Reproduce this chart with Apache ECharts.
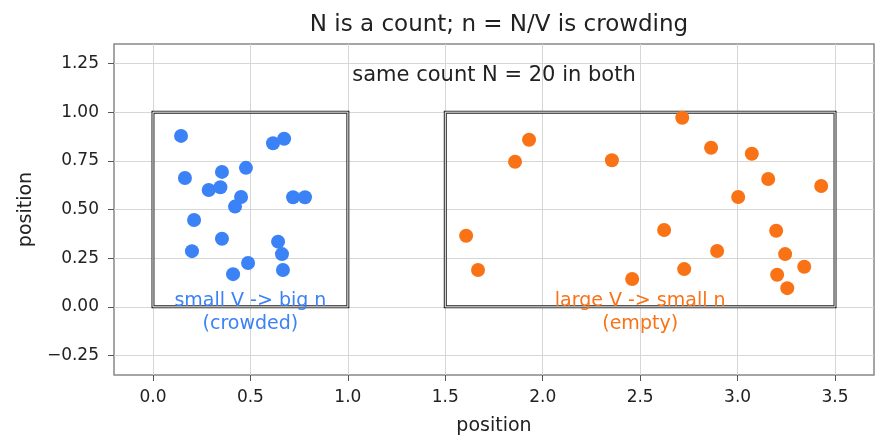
<!DOCTYPE html>
<html>
<head>
<meta charset="utf-8">
<script src="https://cdn.jsdelivr.net/npm/echarts@6/dist/echarts.min.js"></script>
<style>
  html, body { margin: 0; padding: 0; background: #fff; }
  #chart { width: 887px; height: 448px; }
</style>
</head>
<body>
<div id="chart"></div>
<script>
// points inside the small box (x, y)
var smallBoxPts = [
  [0.144, 0.878], [0.616, 0.840], [0.673, 0.863], [0.164, 0.662], [0.354, 0.693],
  [0.477, 0.714], [0.286, 0.600], [0.346, 0.614], [0.452, 0.564], [0.421, 0.515],
  [0.719, 0.563], [0.780, 0.563], [0.211, 0.446], [0.354, 0.350], [0.200, 0.286],
  [0.642, 0.335], [0.662, 0.271], [0.488, 0.225], [0.411, 0.168], [0.667, 0.189]
];
// points inside the large box
var largeBoxPts = [
  [2.716, 0.971], [1.930, 0.858], [1.858, 0.745], [2.355, 0.753], [2.864, 0.817],
  [3.073, 0.786], [3.157, 0.657], [3.429, 0.621], [3.003, 0.564], [1.607, 0.365],
  [1.668, 0.189], [2.623, 0.395], [2.895, 0.287], [2.726, 0.194], [2.459, 0.143],
  [3.198, 0.391], [3.244, 0.271], [3.342, 0.206], [3.203, 0.165], [3.255, 0.096]
];
// boxes: x0, y0, x1, y1
var boxes = [[0, 0, 1, 1], [1.5, 0, 3.5, 1]];
// annotations: x, y, text, colour
var notes = [
  [0.5, -0.03, 'small V -> big n\n(crowded)', '#3b82f6'],
  [2.5, -0.03, 'large V -> small n\n(empty)', '#f97316'],
  [1.75, 1.19, 'same count N = 20 in both', '#222222']
];
var xTicks = [0, 0.5, 1, 1.5, 2, 2.5, 3, 3.5];
var yTicks = [-0.25, 0, 0.25, 0.5, 0.75, 1, 1.25];

var font = 'DejaVu Sans';
var chart = echarts.init(document.getElementById('chart'));

var option = {
  animation: false,
  title: {
    text: 'N is a count; n = N/V is crowding',
    left: 494, top: 9, textAlign: 'center',
    textStyle: { fontFamily: font, fontSize: 23, fontWeight: 'normal', color: '#222' }
  },
  grid: { left: 114, top: 44, right: 13, bottom: 73, show: true, borderColor: '#888', borderWidth: 1.5 },
  xAxis: {
    type: 'value', min: -0.2, max: 3.7, interval: 0.5,
    name: 'position', nameLocation: 'middle', nameGap: 42,
    nameTextStyle: { fontFamily: font, fontSize: 19, color: '#222' },
    axisLine: { show: false, onZero: false },
    axisTick: { show: true, length: 6, lineStyle: { color: '#555' }, customValues: xTicks },
    axisLabel: { fontFamily: font, fontSize: 17, color: '#222', margin: 14,
      customValues: xTicks,
      formatter: function (v) { return v.toFixed(1); } },
    splitLine: { show: true, lineStyle: { color: '#d6d6d6', width: 1 } }
  },
  yAxis: {
    type: 'value', min: -0.35, max: 1.35,
    name: 'position', nameLocation: 'middle', nameGap: 77,
    nameTextStyle: { fontFamily: font, fontSize: 19, color: '#222' },
    axisLine: { show: false, onZero: false },
    axisTick: { show: true, length: 6, lineStyle: { color: '#555' }, customValues: yTicks },
    axisLabel: { fontFamily: font, fontSize: 17, color: '#222', margin: 15,
      customValues: yTicks,
      formatter: function (v) { return v.toFixed(2).replace('-', '\u2212'); } },
    splitLine: { show: true, lineStyle: { color: '#d6d6d6', width: 1 } }
  },
  series: [
    {
      type: 'custom', z: 2, clip: false,
      data: boxes,
      renderItem: function (params, api) {
        var p0 = api.coord([api.value(0), api.value(3)]);
        var p1 = api.coord([api.value(2), api.value(1)]);
        var shape = { x: p0[0], y: p0[1], width: p1[0] - p0[0], height: p1[1] - p0[1] };
        return {
          type: 'group',
          children: [
            { type: 'rect', shape: shape, style: { fill: null, stroke: '#222', lineWidth: 3 } },
            { type: 'rect', shape: shape, style: { fill: null, stroke: '#fff', lineWidth: 1 } }
          ]
        };
      }
    },
    {
      type: 'scatter', z: 3, symbolSize: 14,
      data: smallBoxPts,
      itemStyle: { color: '#3b82f6', opacity: 1 }
    },
    {
      type: 'scatter', z: 3, symbolSize: 14,
      data: largeBoxPts,
      itemStyle: { color: '#f97316', opacity: 1 }
    },
    {
      type: 'custom', z: 4, clip: false,
      data: notes,
      renderItem: function (params, api) {
        var n = notes[params.dataIndex];
        var p = api.coord([n[0], n[1]]);
        var big = n[3] === '#222222';
        return {
          type: 'text',
          x: p[0], y: p[1],
          style: {
            text: n[2], fill: n[3], font: (big ? '21px ' : '19px ') + font,
            align: 'center', verticalAlign: 'middle', lineHeight: big ? 24 : 23
          }
        };
      }
    }
  ]
};
chart.setOption(option);
</script>
</body>
</html>
